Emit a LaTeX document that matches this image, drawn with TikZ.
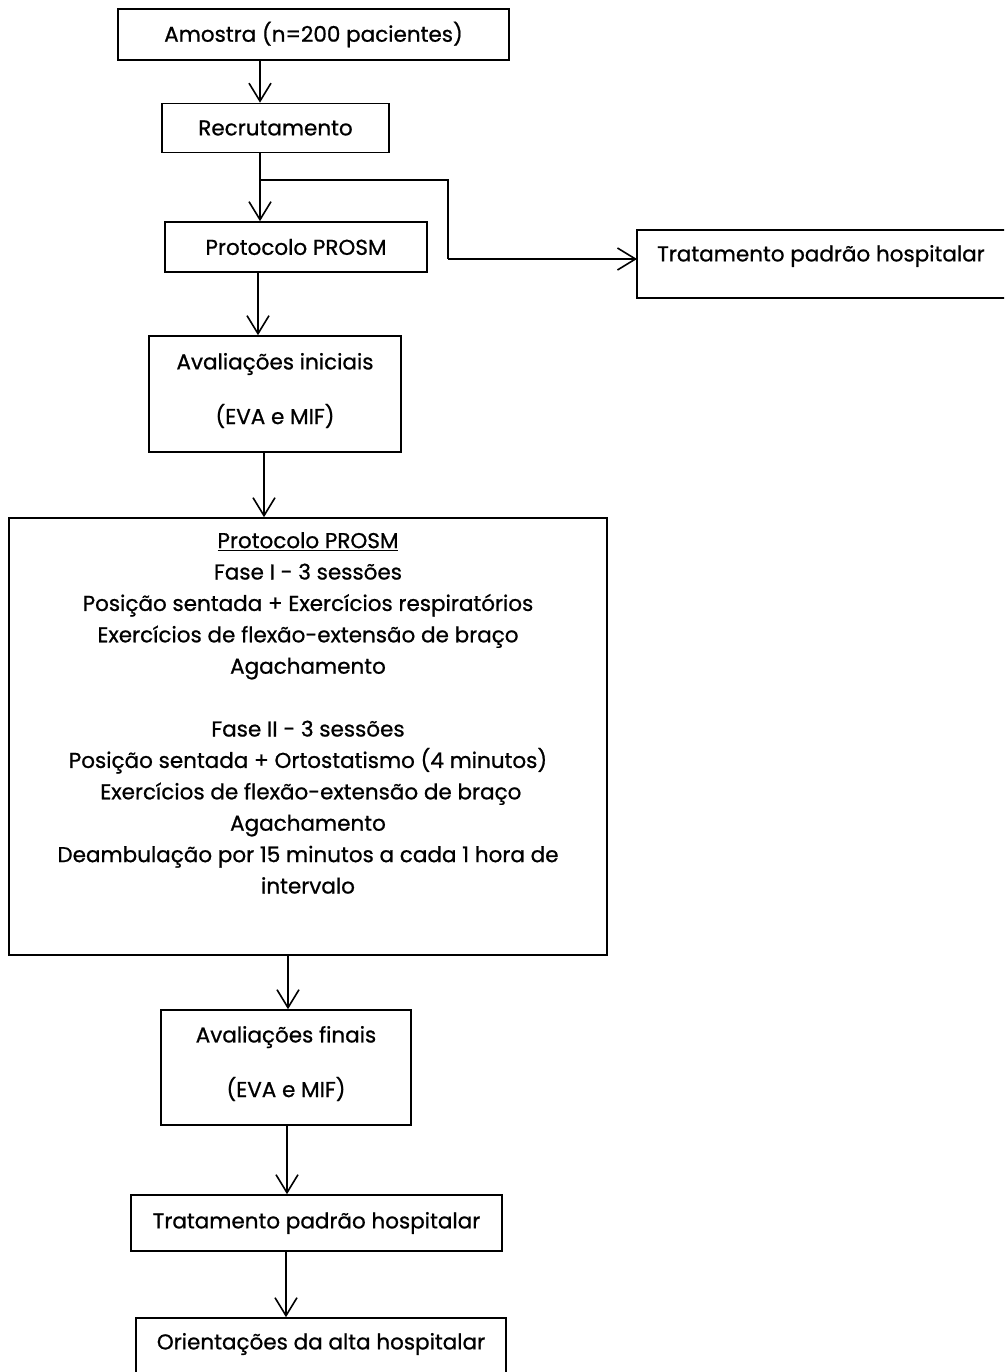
\documentclass[tikz,border=0pt]{standalone}
\usepackage{fontspec}
\setmainfont{Poppins}[UprightFeatures={FakeBold=0.8}]
\usetikzlibrary{arrows.meta}
\begin{document}
\begin{tikzpicture}[x=1pt,y=-1pt,
  box/.style={draw=black, line width=1.6pt, rectangle, inner sep=0pt, align=center},
  txt/.style={inner sep=0pt, align=center, text=black},
  arr/.style={draw=black, line width=1.6pt, -{Straight Barb[length=18pt,width=22pt,line width=1.6pt]}},
  ln/.style={draw=black, line width=1.6pt},
  font=\fontsize{21.5}{31.4}\selectfont]
\clip (0,0) rectangle (1004,1372);
\fill[white] (0,0) rectangle (1004,1372);
% boxes
\node[box, minimum width=391pt, minimum height=51pt] (amostra) at (313.5,34.5) {Amostra (n=200 pacientes)};
\node[box, minimum width=227pt, minimum height=49pt] (recr) at (275.5,128) {Recrutamento};
\node[box, minimum width=262pt, minimum height=50pt] (prot) at (296,247) {Protocolo PROSM};
\node[box, minimum width=373pt, minimum height=68pt] (padraoA) at (823.5,264) {};
\node[txt, anchor=west] (padraoAt) at (657,256) {Tratamento padrão hospitalar};
\node[box, minimum width=252pt, minimum height=116pt] (avini) at (275,394) {};
\node[txt] (avinit) at (275,364) {Avaliações iniciais};
\node[txt] (avinit2) at (275,416) {(EVA e MIF)};
\node[box, minimum width=598pt, minimum height=437pt] (big) at (308,736.5) {};
\node[txt, anchor=north] (bigt) at (308,532) {\underline{Protocolo PROSM}\\
Fase I - 3 sessões\\
Posição sentada + Exercícios respiratórios\\
Exercícios de flexão-extensão de braço\\
Agachamento\\[31.4pt]
Fase II - 3 sessões\\
Posição sentada + Ortostatismo (4 minutos)\\
\ Exercícios de flexão-extensão de braço\\
Agachamento\\
Deambulação por 15 minutos a cada 1 hora de\\
intervalo};
\node[box, minimum width=250pt, minimum height=115pt] (avfin) at (286,1067.5) {};
\node[txt] (avfint) at (286,1037) {Avaliações finais};
\node[txt] (avfint2) at (286,1089) {(EVA e MIF)};
\node[box, minimum width=371pt, minimum height=56pt] (padraoB) at (316.5,1223) {Tratamento padrão hospitalar};
\node[box, minimum width=370pt, minimum height=82pt] (orient) at (321,1359) {};
\node[txt] (orientt) at (321,1344) {Orientações da alta hospitalar};
% connector columns
\coordinate (c1) at (260,0);
\coordinate (c2) at (258,0);
\coordinate (c3) at (264,0);
\coordinate (c4) at (288,0);
\coordinate (c5) at (287,0);
\coordinate (c6) at (286,0);
\coordinate (br) at (260,180);
\coordinate (brr) at (448,180);
\coordinate (brd) at (448,259);
\coordinate (bre) at (637,259);
% connectors
\draw[arr] (amostra.south -| c1) -- (recr.north -| c1);
\draw[arr] (recr.south -| c1) -- (prot.north -| c1);
\draw[ln] (br) -- (brr) -- (brd);
\draw[arr] (brd) -- (bre);
\draw[arr] (prot.south -| c2) -- (avini.north -| c2);
\draw[arr] (avini.south -| c3) -- (big.north -| c3);
\draw[arr] (big.south -| c4) -- (avfin.north -| c4);
\draw[arr] (avfin.south -| c5) -- (padraoB.north -| c5);
\draw[arr] (padraoB.south -| c6) -- (orient.north -| c6);
\end{tikzpicture}
\end{document}
